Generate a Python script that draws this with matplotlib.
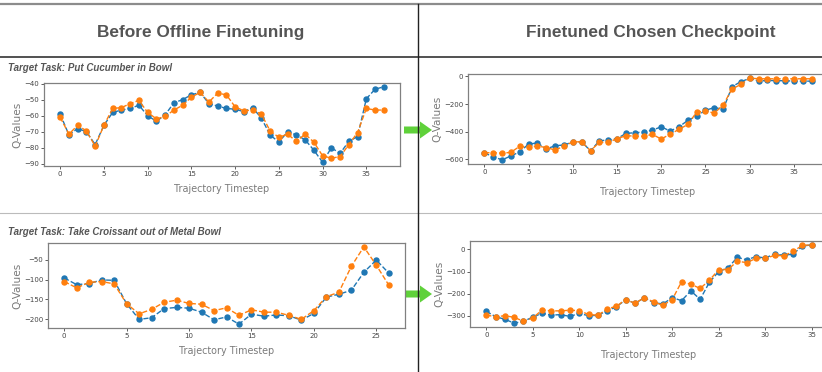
import numpy as np
import matplotlib
matplotlib.use("Agg")
import matplotlib.pyplot as plt
from matplotlib.patches import FancyArrow
from matplotlib.ticker import MultipleLocator

# column headers and task names
col_titles = ["Before Offline Finetuning", "Finetuned Chosen Checkpoint"]
task_names = ["Target Task: Put Cucumber in Bowl", "Target Task: Take Croissant out of Metal Bowl"]

# Put Cucumber in Bowl, before finetuning
cuc_before_blue = [-59, -72, -68, -70, -78, -66, -58, -56.5, -55.5, -53.5, -60, -63.5, -59.5, -52, -50,
                   -47, -45.5, -52.5, -54, -55.5, -56, -57.5, -55, -61.5, -72, -76.5, -70, -72, -75,
                   -81.5, -89, -80, -83.5, -76, -73, -49.5, -43.5, -42]
cuc_before_orange = [-61, -71.5, -66, -69.5, -79, -66, -55.5, -55, -52.5, -50.5, -58, -62, -60.5, -56.5,
                     -53.5, -48.5, -45.5, -51.5, -46, -47, -54.5, -57, -56.5, -59, -69.5, -73.5, -71.5,
                     -76, -71.5, -76.5, -85, -86.5, -85.5, -78, -70.5, -55.5, -56.5, -56.5]

# Put Cucumber in Bowl, finetuned checkpoint
cuc_after_blue = [-555, -581, -605, -576, -547, -490, -482, -526, -502, -497, -475, -473, -540, -466,
                  -461, -451, -413, -408, -403, -389, -365, -396, -365, -319, -288, -245, -226, -238,
                  -74, -38, -14, -34, -29, -31, -31, -34, -34, -34]
cuc_after_orange = [-554, -552, -557, -550, -506, -514, -504, -516, -533, -506, -473, -475, -538, -478,
                    -478, -451, -430, -432, -434, -420, -454, -418, -384, -348, -259, -250, -266, -206,
                    -91, -58, -12, -17, -17, -17, -17, -17, -17, -17]

# Take Croissant out of Metal Bowl, before finetuning
cro_before_blue = [-96, -113, -110, -101, -102, -161, -200, -196, -173, -170, -172, -182, -201, -194,
                   -212, -187, -192, -189, -191, -202, -185, -144, -137, -127, -82, -51, -84]
cro_before_orange = [-105, -121, -107, -105, -111, -161, -186, -175, -157, -152, -160, -162, -178, -171,
                     -190, -176, -182, -182, -190, -200, -178, -143, -132, -67, -18, -64, -114]

# Take Croissant out of Metal Bowl, finetuned checkpoint
cro_after_blue = [-279, -303, -315, -332, -324, -305, -288, -296, -294, -302, -288, -299, -297, -276,
                  -259, -226, -243, -218, -240, -246, -217, -231, -187, -225, -148, -100, -83, -36,
                  -47, -33, -39, -21, -27, -21, 15, 20]
cro_after_orange = [-296, -303, -299, -306, -324, -309, -273, -277, -277, -274, -276, -293, -297, -268,
                    -256, -226, -243, -217, -237, -252, -226, -146, -157, -176, -139, -91, -91, -53,
                    -60, -41, -41, -27, -29, -9, 18, 20]

W, H = 822, 372
fig = plt.figure(figsize=(W / 100, H / 100), dpi=100)


def px_rect(left, top, right, bottom):
    return [left / W, 1 - bottom / H, (right - left) / W, (bottom - top) / H]


def draw_panel(rect, blue, orange, ystep, xpad=5):
    ax = fig.add_axes(px_rect(*rect))
    x = np.arange(len(blue))
    ax.plot(x, blue, "--o", color="#1f77b4", lw=1.0, ms=3.6)
    ax.plot(x, orange, "--o", color="#ff7f0e", lw=1.0, ms=3.6)
    ax.set_xticks(np.arange(0, len(blue), 5))
    ax.yaxis.set_major_locator(MultipleLocator(ystep))
    ax.tick_params(labelsize=5, colors="#444444", length=2, width=0.6, pad=1.5)
    for s in ax.spines.values():
        s.set_color("#808080")
        s.set_linewidth(0.9)
    ax.set_xlabel("Trajectory Timestep", fontsize=6.9, color="#7a7a7a", labelpad=xpad)
    ax.set_ylabel("Q-Values", fontsize=7.6, color="#7a7a7a", labelpad=1)
    return ax


draw_panel((44, 83, 400, 166), cuc_before_blue, cuc_before_orange, 10)
draw_panel((468, 74, 828, 164), cuc_after_blue, cuc_after_orange, 200, xpad=9)
draw_panel((48, 243, 405, 328), cro_before_blue, cro_before_orange, 50)
draw_panel((470, 241, 828, 327), cro_after_blue, cro_after_orange, 100, xpad=9)

# overlay in pixel coordinates for dividers, headers, arrows
ov = fig.add_axes([0, 0, 1, 1], zorder=-1)
ov.set_xlim(0, W)
ov.set_ylim(H, 0)
ov.axis("off")
ov.plot([0, W], [4, 4], color="#8c8c8c", lw=1.6)
ov.plot([0, W], [56.5, 56.5], color="#333333", lw=1.2)
ov.plot([0, W], [212.5, 212.5], color="#bbbbbb", lw=0.8)
ov.plot([417.5, 417.5], [4, H], color="#222222", lw=1.0)

hfont = ["Liberation Sans", "DejaVu Sans"]
ov.text(201, 32, col_titles[0], ha="center", va="center", fontsize=12.4, fontweight="bold",
        color="#555555", family=hfont)
ov.text(651, 32, col_titles[1], ha="center", va="center", fontsize=12.4, fontweight="bold",
        color="#555555", family=hfont)

tfont = ["Liberation Sans", "DejaVu Sans"]
ov.text(8, 68, task_names[0], ha="left", va="center", fontsize=7, fontweight="bold",
        style="italic", color="#555555", family=tfont)
ov.text(8, 232, task_names[1], ha="left", va="center", fontsize=7, fontweight="bold",
        style="italic", color="#555555", family=tfont)

for yc in (130, 294):
    ov.add_patch(FancyArrow(404, yc, 16, 0, width=7, head_width=17, head_length=12,
                            length_includes_head=False, color="#5fd13a", lw=0))

fig.savefig("out.png", dpi=100)
